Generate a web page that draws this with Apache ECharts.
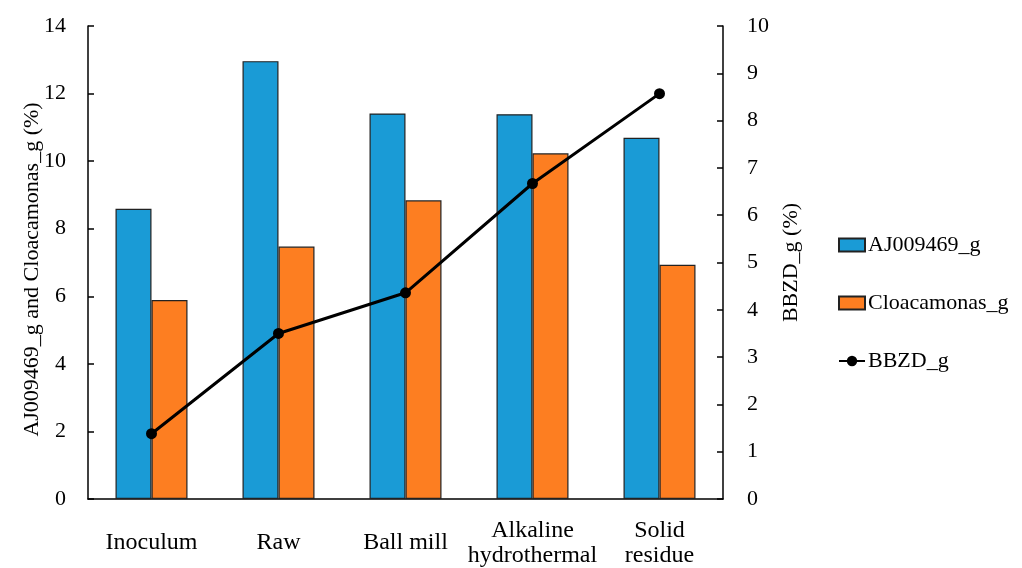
<!DOCTYPE html>
<html>
<head>
<meta charset="utf-8">
<script src="https://cdn.jsdelivr.net/npm/echarts@6/dist/echarts.min.js"></script>
<style>html,body{margin:0;padding:0;background:#fff}#c{width:1022px;height:568px}</style>
</head>
<body>
<div id="c"></div>
<script>
const categories = ['Inoculum', 'Raw', 'Ball mill', 'Alkaline\nhydrothermal', 'Solid\nresidue'];
const aj009469 = [8.59, 12.96, 11.41, 11.39, 10.69];
const cloacamonas = [5.89, 7.47, 8.84, 10.23, 6.93];
const bbzd = [1.38, 3.50, 4.36, 6.67, 8.57];
const leftTicks = {min: 0, max: 14, interval: 2};
const rightTicks = {min: 0, max: 10, interval: 1};

const font = 'Liberation Serif';
const chart = echarts.init(document.getElementById('c'), null, {renderer: 'canvas'});
chart.setOption({
  animation: false,
  backgroundColor: '#fff',
  textStyle: {fontFamily: font, color: '#000'},
  grid: {left: 88, right: 299, top: 26, bottom: 67},
  legend: {
    orient: 'vertical', left: 833, top: 229, itemGap: 36,
    itemWidth: 26, itemHeight: 13,
    textStyle: {fontFamily: font, fontSize: 22, color: '#000', padding: [0, 0, 0, -2]},
    data: [
      {name: 'AJ009469_g', icon: 'rect'},
      {name: 'Cloacamonas_g', icon: 'rect'},
      {name: 'BBZD_g'}
    ]
  },
  xAxis: {
    type: 'category', data: categories,
    axisLine: {lineStyle: {color: '#000', width: 1.5}},
    axisTick: {show: false},
    axisLabel: {fontFamily: font, fontSize: 24, color: '#000', margin: 44, verticalAlign: 'middle', lineHeight: 25, interval: 0}
  },
  yAxis: [{
    type: 'value', min: leftTicks.min, max: leftTicks.max, interval: leftTicks.interval,
    name: 'AJ009469_g and Cloacamonas_g (%)', nameLocation: 'middle', nameGap: 45, nameRotate: 90,
    nameMoveOverlap: false,
    nameTextStyle: {fontFamily: font, fontSize: 22, color: '#000', padding: [0, 14, 0, 0]},
    axisLine: {show: true, lineStyle: {color: '#000', width: 1.5}},
    axisTick: {show: true, inside: true, length: 6, lineStyle: {color: '#000', width: 1.5}},
    axisLabel: {fontFamily: font, fontSize: 22, color: '#000', margin: 22},
    splitLine: {show: false}
  }, {
    type: 'value', position: 'right', min: rightTicks.min, max: rightTicks.max, interval: rightTicks.interval,
    name: 'BBZD_g (%)', nameLocation: 'middle', nameGap: 57, nameRotate: 90,
    nameMoveOverlap: false,
    nameTextStyle: {fontFamily: font, fontSize: 22, color: '#000'},
    axisLine: {show: true, lineStyle: {color: '#000', width: 1.5}},
    axisTick: {show: true, inside: true, length: 6, lineStyle: {color: '#000', width: 1.5}},
    axisLabel: {fontFamily: font, fontSize: 22, color: '#000', margin: 24},
    splitLine: {show: false}
  }],
  series: [{
    name: 'AJ009469_g', type: 'bar', data: aj009469, barWidth: 36, barGap: '0%',
    itemStyle: {color: '#1a9bd6', borderColor: '#222', borderWidth: 1.2}
  }, {
    name: 'Cloacamonas_g', type: 'bar', data: cloacamonas, barWidth: 36, barGap: '0%',
    itemStyle: {color: '#fd7e21', borderColor: '#222', borderWidth: 1.2}
  }, {
    name: 'BBZD_g', type: 'line', yAxisIndex: 1, data: bbzd,
    symbol: 'circle', symbolSize: 11,
    lineStyle: {color: '#000', width: 3},
    itemStyle: {color: '#000'}
  }]
});
</script>
</body>
</html>
